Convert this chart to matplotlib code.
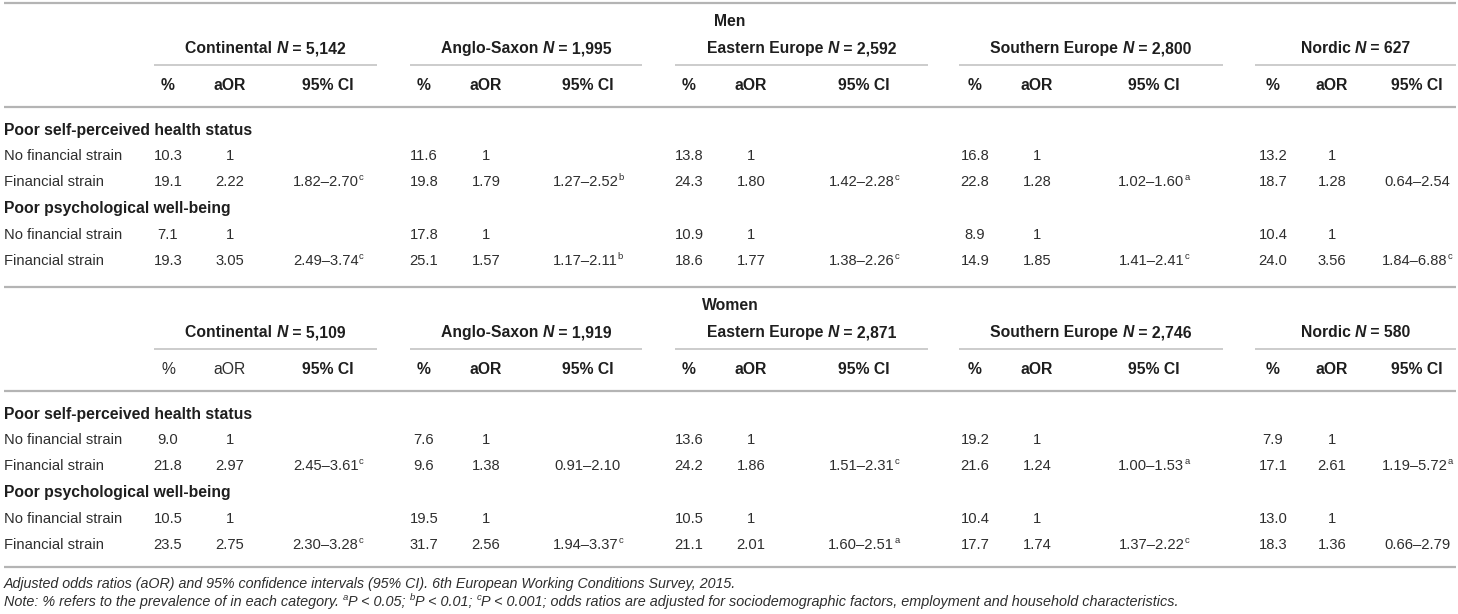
import matplotlib
matplotlib.use("Agg")
import matplotlib.pyplot as plt

plt.rcParams['font.family'] = ['Liberation Sans', 'DejaVu Sans']

# ---------------- data ----------------
regions = ['Continental', 'Anglo-Saxon', 'Eastern Europe', 'Southern Europe', 'Nordic']
men_n = ['5,142', '1,995', '2,592', '2,800', '627']
women_n = ['5,109', '1,919', '2,871', '2,746', '580']
outcomes = ['Poor self-perceived health status', 'Poor psychological well-being']
strata = ['No financial strain', 'Financial strain']

men_health_pct_no = [10.3, 11.6, 13.8, 16.8, 13.2]
men_health_pct_fs = [19.1, 19.8, 24.3, 22.8, 18.7]
men_health_aor = [2.22, 1.79, 1.80, 1.28, 1.28]
men_health_ci = ['1.82–2.70', '1.27–2.52', '1.42–2.28', '1.02–1.60', '0.64–2.54']
men_health_sig = ['c', 'b', 'c', 'a', '']
men_psych_pct_no = [7.1, 17.8, 10.9, 8.9, 10.4]
men_psych_pct_fs = [19.3, 25.1, 18.6, 14.9, 24.0]
men_psych_aor = [3.05, 1.57, 1.77, 1.85, 3.56]
men_psych_ci = ['2.49–3.74', '1.17–2.11', '1.38–2.26', '1.41–2.41', '1.84–6.88']
men_psych_sig = ['c', 'b', 'c', 'c', 'c']

women_health_pct_no = [9.0, 7.6, 13.6, 19.2, 7.9]
women_health_pct_fs = [21.8, 9.6, 24.2, 21.6, 17.1]
women_health_aor = [2.97, 1.38, 1.86, 1.24, 2.61]
women_health_ci = ['2.45–3.61', '0.91–2.10', '1.51–2.31', '1.00–1.53', '1.19–5.72']
women_health_sig = ['c', '', 'c', 'a', 'a']
women_psych_pct_no = [10.5, 19.5, 10.5, 10.4, 13.0]
women_psych_pct_fs = [23.5, 31.7, 21.1, 17.7, 18.3]
women_psych_aor = [2.75, 2.56, 2.01, 1.74, 1.36]
women_psych_ci = ['2.30–3.28', '1.94–3.37', '1.60–2.51', '1.37–2.22', '0.66–2.79']
women_psych_sig = ['c', 'c', 'a', 'c', '']

col_labels = ['%', 'aOR', '95% CI']
caption1 = ('Adjusted odds ratios (aOR) and 95% confidence intervals (95% CI). '
            '6th European Working Conditions Survey, 2015.')
caption2 = [('Note: % refers to the prevalence of in each category. ', ''),
            ('P < 0.05; ', 'a'), ('P < 0.01; ', 'b'),
            ('P < 0.001; odds ratios are adjusted for sociodemographic factors, '
             'employment and household characteristics.', 'c')]

# ---------------- layout ----------------
W, H = 1458, 614
fig = plt.figure(figsize=(W / 100, H / 100), dpi=100)
ax = fig.add_axes([0, 0, 1, 1])
ax.set_xlim(0, W)
ax.set_ylim(H, 0)
ax.axis('off')
fig.canvas.draw()
R = fig.canvas.get_renderer()

FS = 10.6
FSB = 11.3
SUP = 6.8
CAP = 10.3
CAP2 = 10.35
TXT = '#2e2e2e'
LINE = '#b4b4b4'

pct_x = [168, 424, 689, 975, 1273]
aor_x = [230, 486, 751, 1037, 1332]
ci_x = [328, 588, 864, 1154, 1417]
grp_l = [154, 410, 675, 959, 1255]
grp_r = [377, 642, 928, 1223, 1456]


def width(s, **kw):
    t = ax.text(0, 0, s + '|', **kw)
    t2 = ax.text(0, 0, '|', **kw)
    w = t.get_window_extent(R).width - t2.get_window_extent(R).width
    t.remove(); t2.remove()
    return w


def runs(x, y, parts, align='left'):
    """parts: list of (text, kwargs, dy); y is the visual centre of capitals"""
    ws = [width(s, **kw) for s, kw, dy in parts]
    total = sum(ws)
    x0 = x - total / 2 if align == 'center' else x
    base = y + 4
    for (s, kw, dy), w in zip(parts, ws):
        ax.text(x0, base + dy, s, ha='left', va='baseline', **kw)
        x0 += w


def hline(y, x0=4, x1=1456, lw=1.6, c=LINE):
    ax.plot([x0, x1], [y, y], color=c, lw=lw, solid_capstyle='butt')


reg = dict(fontsize=FS, color=TXT)
bold = dict(fontsize=FSB, color='#1e1e1e', fontweight='bold')
bolditalic = dict(fontsize=FSB, color='#1e1e1e', fontweight='bold', fontstyle='italic')
regh = dict(fontsize=FSB, color=TXT)
sup = dict(fontsize=SUP, color=TXT)


def block(y0, title, ns, data, plain_first_cols=False):
    hline(y0 - 18)
    ax.text(730, y0, title, ha='center', va='center', **bold)
    for i in range(5):
        cx = (grp_l[i] + grp_r[i]) / 2
        runs(cx, y0 + 28, [(regions[i] + ' ', bold, 0), ('N', bolditalic, 0),
                           (' = ' + ns[i], bold, 0)], align='center')
        hline(y0 + 44, grp_l[i], grp_r[i], lw=1.2, c='#c4c4c4')
        for j, (lab, xs) in enumerate(zip(col_labels, [pct_x, aor_x, ci_x])):
            style = regh if (plain_first_cols and i == 0 and j < 2) else bold
            ax.text(xs[i], y0 + 64, lab, ha='center', va='center', **style)
    hline(y0 + 86)
    ys = [[y0 + 135, y0 + 161], [y0 + 214, y0 + 240]]
    for k, (pno, pfs, aor, ci, sig) in enumerate(data):
        ax.text(4, y0 + 109 + 79 * k, outcomes[k], ha='left', va='center', **bold)
        for r in range(2):
            ax.text(4, ys[k][r], strata[r], ha='left', va='center', **reg)
        for i in range(5):
            ax.text(pct_x[i], ys[k][0], f'{pno[i]:.1f}', ha='center', va='center', **reg)
            ax.text(aor_x[i], ys[k][0], '1', ha='center', va='center', **reg)
            ax.text(pct_x[i], ys[k][1], f'{pfs[i]:.1f}', ha='center', va='center', **reg)
            ax.text(aor_x[i], ys[k][1], f'{aor[i]:.2f}', ha='center', va='center', **reg)
            parts = [(ci[i], reg, 0)]
            if sig[i]:
                parts.append((sig[i], sup, -6))
            runs(ci_x[i], ys[k][1], parts, align='center')


block(21, 'Men', men_n,
      [(men_health_pct_no, men_health_pct_fs, men_health_aor, men_health_ci, men_health_sig),
       (men_psych_pct_no, men_psych_pct_fs, men_psych_aor, men_psych_ci, men_psych_sig)])
block(305, 'Women', women_n,
      [(women_health_pct_no, women_health_pct_fs, women_health_aor, women_health_ci, women_health_sig),
       (women_psych_pct_no, women_psych_pct_fs, women_psych_aor, women_psych_ci, women_psych_sig)],
      plain_first_cols=True)
hline(567)

cap = dict(fontsize=CAP, color=TXT, fontstyle='italic')
cap2 = dict(fontsize=CAP2, color=TXT, fontstyle='italic')
capsup = dict(fontsize=SUP, color=TXT, fontstyle='italic')
ax.text(4, 584, caption1, ha='left', va='center', **cap)
parts = []
for s, sg in caption2:
    if sg:
        parts.append((sg, capsup, -5.5))
    parts.append((s, cap2, 0))
runs(4, 602, parts)

fig.savefig('out.png', dpi=100)
